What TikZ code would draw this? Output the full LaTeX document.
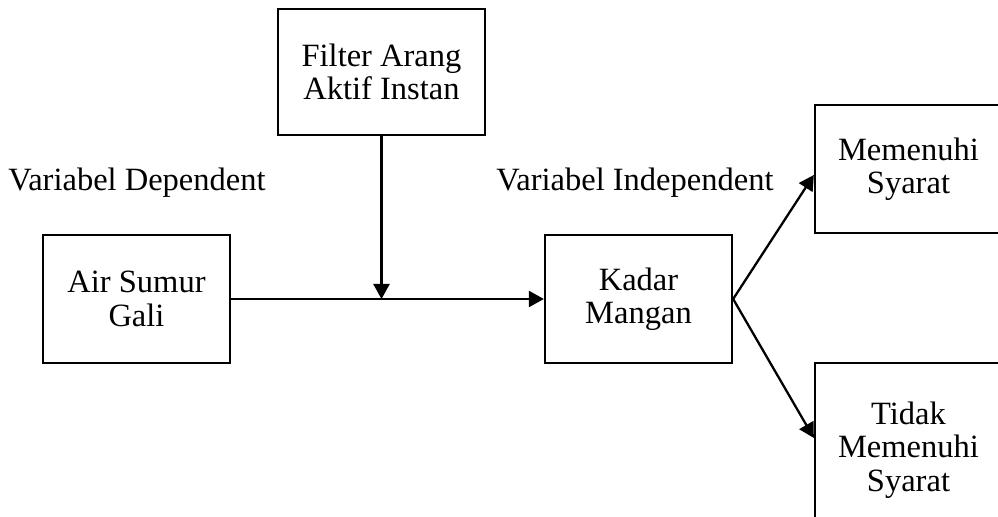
\documentclass[tikz,border=0pt]{standalone}
\usepackage{fontspec}
\setmainfont{Liberation Serif}
\usetikzlibrary{arrows.meta, positioning, calc}

\begin{document}
\begin{tikzpicture}[
    box/.style={rectangle, draw, line width=1.3pt, minimum width=3.74cm, minimum height=2.56cm, align=center, font=\fontsize{18.5}{19}\selectfont},
    label/.style={font=\fontsize{18.5}{19}\selectfont},
    arrow/.style={-{Triangle[length=0.3cm, width=0.32cm]}, line width=1.3pt},
]
\useasboundingbox (0,0) rectangle (19.96,-10.34);
\clip (0,0) rectangle (19.96,-10.34);

% Treatment (top)
\node[box, minimum width=4.14cm, minimum height=2.52cm] (filter) at (7.63,-1.44) {Filter Arang\\Aktif Instan};

% Main row
\node[box] (air) at (2.73,-5.98) {Air Sumur\\Gali};
\node[box] (kadar) at (12.77,-5.98) {Kadar\\Mangan};

% Outcomes (right)
\node[box] (memenuhi) at (18.17,-3.38) {Memenuhi\\Syarat};
\node[box, minimum height=3.48cm] (tidak) at (18.17,-9.0) {Tidak\\Memenuhi\\Syarat};

% Variable labels
\node[label] (dep) at (2.74,-3.66) {Variabel Dependent};
\node[label] (indep) at (12.7,-3.66) {Variabel Independent};

% Connections
\coordinate (join) at (filter.south |- air.east);
\draw[arrow] (air.east) -- (kadar.west);
\draw[arrow] (filter.south) -- (join);
\draw[arrow] (kadar.east) -- ([yshift=-0.12cm]memenuhi.west);
\draw[arrow] (kadar.east) -- ([yshift=0.24cm]tidak.west);

\end{tikzpicture}
\end{document}
